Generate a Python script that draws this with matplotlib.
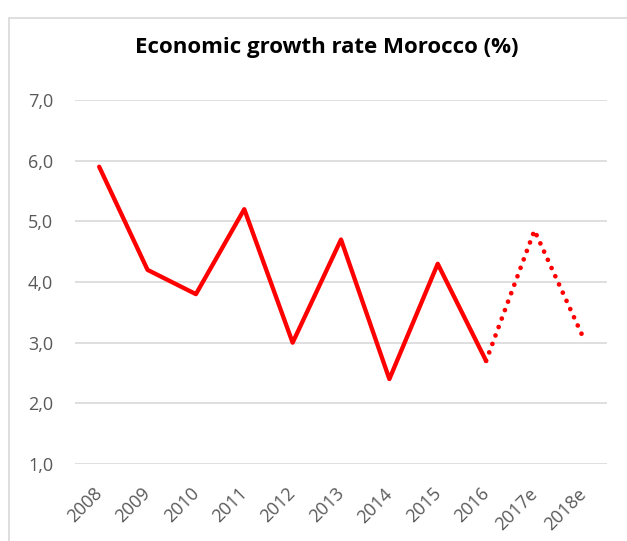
import matplotlib
matplotlib.use("Agg")
import matplotlib.pyplot as plt
from matplotlib.patches import Rectangle
import matplotlib.transforms as mtrans

categories = ["2008", "2009", "2010", "2011", "2012", "2013", "2014", "2015", "2016", "2017e", "2018e"]
growth = [5.9, 4.2, 3.8, 5.2, 3.0, 4.7, 2.4, 4.3, 2.7, 4.85, 3.1]
n_actual = 9  # 2008..2016 solid, rest estimates (dotted)
yticks = [1.0, 2.0, 3.0, 4.0, 5.0, 6.0, 7.0]
title = "Economic growth rate Morocco (%)"

W, H = 627, 541
fig = plt.figure(figsize=(W / 100, H / 100), dpi=100)
fig.patch.set_facecolor("white")

# outer chart border (extends past right/bottom edges)
fig.patches.append(Rectangle((9 / W, -0.1), 1.2, 1 - 18 / H + 0.1, transform=fig.transFigure,
                             fill=False, edgecolor="#d9d9d9", linewidth=1.2))

x0, x1 = 75, 607
y_top, y_bot = 100, 464
ax = fig.add_axes([x0 / W, 1 - y_bot / H, (x1 - x0) / W, (y_bot - y_top) / H])
ax.set_facecolor("none")

xs = list(range(len(categories)))
ax.plot(xs[:n_actual], growth[:n_actual], color="#ff0000", lw=3.1, solid_capstyle="round",
        solid_joinstyle="round", zorder=3)
ax.plot(xs[n_actual - 1:], growth[n_actual - 1:], color="#ff0000", lw=3.4, linestyle=(0, (0.01, 1.9)),
        dash_capstyle="round", zorder=3)

ax.set_xlim(-0.5, len(categories) - 0.5)
ax.set_ylim(1.0, 7.0)
ax.set_yticks(yticks)
ax.set_yticklabels([f"{v:.1f}".replace(".", ",") for v in yticks])
ax.yaxis.grid(True, color="#d9d9d9", linewidth=1.2)
ax.set_axisbelow(True)
for s in ax.spines.values():
    s.set_visible(False)
ax.tick_params(axis="y", length=0, pad=15.8, labelsize=13, labelcolor="#595959")
ax.set_xticks(xs)
ax.set_xticklabels(categories, rotation=45, ha="right", va="center_baseline", rotation_mode="anchor")
ax.tick_params(axis="x", length=0, pad=18.4, labelsize=13, labelcolor="#595959")
for lbl in ax.get_xticklabels() + ax.get_yticklabels():
    lbl.set_family(["Open Sans", "DejaVu Sans"])
off = mtrans.ScaledTranslation(-1 / 100, 0, fig.dpi_scale_trans)
for lbl in ax.get_xticklabels():
    lbl.set_transform(lbl.get_transform() + off)

fig.text(327 / W, 1 - 47 / H, title, ha="center", va="center", fontsize=16, fontweight="bold",
         family=["Open Sans", "DejaVu Sans"], color="black")

fig.savefig("out.png", dpi=100, facecolor="white")
